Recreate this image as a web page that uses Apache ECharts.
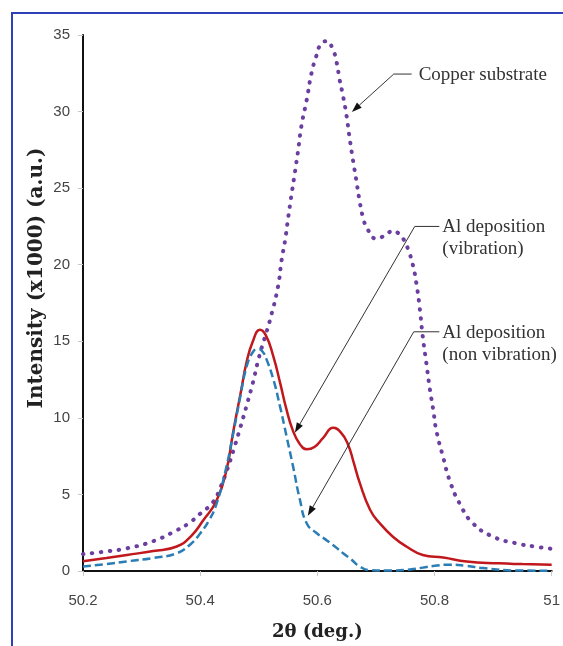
<!DOCTYPE html>
<html>
<head>
<meta charset="utf-8">
<script src="https://cdn.jsdelivr.net/npm/echarts@6/dist/echarts.min.js"></script>
<style>
html,body{margin:0;padding:0;background:#fff;overflow:hidden;}
#c{width:563px;height:646px;}
</style>
</head>
<body>
<div id="c"></div>
<script>
// ---- data (2θ in degrees, intensity x1000) ----
const xTicks = [50.2, 50.4, 50.6, 50.8, 51];
const xTickLabels = ['50.2', '50.4', '50.6', '50.8', '51'];
const yTicks = [0, 5, 10, 15, 20, 25, 30, 35];

const copperX = [50.2, 50.24, 50.275, 50.32, 50.36, 50.38, 50.4, 50.422, 50.435, 50.445, 50.457, 50.468, 50.48, 50.49, 50.5, 50.51, 50.52, 50.533, 50.539, 50.545, 50.55, 50.556, 50.562, 50.567, 50.573, 50.582, 50.59, 50.598, 50.606, 50.616, 50.627, 50.633, 50.638, 50.644, 50.65, 50.655, 50.661, 50.667, 50.672, 50.678, 50.686, 50.701, 50.715, 50.729, 50.74, 50.748, 50.755, 50.763, 50.769, 50.775, 50.78, 50.786, 50.792, 50.798, 50.803, 50.815, 50.826, 50.843, 50.866, 50.9, 50.94, 50.97, 51];
const copperY = [1.1, 1.28, 1.48, 1.95, 2.66, 3.1, 3.74, 4.5, 5.5, 6.5, 7.9, 9.3, 10.9, 12.3, 13.9, 15.2, 16.5, 18.6, 20.3, 21.6, 23.0, 24.6, 26.1, 27.4, 29.1, 30.8, 32.5, 33.6, 34.4, 34.6, 34.0, 33.2, 32.1, 31.0, 29.7, 28.3, 26.8, 25.4, 24.2, 23.1, 22.3, 21.7, 21.9, 22.2, 22.0, 21.6, 21.0, 20.0, 18.8, 17.1, 15.3, 13.6, 11.9, 10.5, 9.2, 7.4, 5.9, 4.4, 3.1, 2.24, 1.8, 1.6, 1.45];

const vibX = [50.2, 50.24, 50.275, 50.32, 50.36, 50.385, 50.405, 50.428, 50.445, 50.456, 50.47, 50.479, 50.49, 50.502, 50.512, 50.525, 50.537, 50.547, 50.558, 50.57, 50.582, 50.595, 50.61, 50.627, 50.64, 50.652, 50.662, 50.672, 50.69, 50.707, 50.729, 50.752, 50.78, 50.815, 50.855, 50.91, 50.95, 51];
const vibY = [0.63, 0.85, 1.05, 1.3, 1.6, 2.3, 3.3, 4.6, 6.6, 9.0, 11.8, 13.6, 15.0, 15.75, 15.4, 14.0, 12.2, 10.6, 9.2, 8.3, 7.95, 8.1, 8.7, 9.35, 9.05, 8.3, 7.1, 5.8, 4.0, 3.1, 2.24, 1.6, 1.05, 0.88, 0.62, 0.5, 0.45, 0.4];

const nonVibX = [50.2, 50.24, 50.275, 50.32, 50.36, 50.385, 50.4, 50.415, 50.428, 50.443, 50.456, 50.468, 50.479, 50.49, 50.499, 50.507, 50.513, 50.525, 50.536, 50.548, 50.559, 50.57, 50.582, 50.598, 50.616, 50.63, 50.644, 50.658, 50.672, 50.69, 50.72, 50.758, 50.78, 50.8, 50.826, 50.855, 50.883, 50.94, 51];
const nonVibY = [0.3, 0.45, 0.63, 0.85, 1.16, 1.8, 2.45, 3.3, 4.4, 6.5, 8.9, 11.3, 13.3, 14.3, 14.5, 14.3, 13.85, 12.5, 10.8, 8.7, 6.75, 4.7, 3.1, 2.5, 2.0, 1.6, 1.16, 0.75, 0.3, 0.05, 0.03, 0.1, 0.22, 0.34, 0.41, 0.33, 0.19, 0.03, 0.02];

// annotation anchors in data space: tip (arrow head), corner, end of horizontal leader
const copperNote = { text: ['Copper substrate'], tip: [50.659, 29.98], corner: [50.7305, 32.45], end: [50.761, 32.45], gap: 7 };
const vibNote = { text: ['Al deposition', '(vibration)'], tip: [50.5616, 9.03], corner: [50.7663, 22.5], end: [50.8083, 22.5], gap: 3 };
const nonVibNote = { text: ['Al deposition', '(non vibration)'], tip: [50.5838, 3.61], corner: [50.7646, 15.62], end: [50.8083, 15.62], gap: 3 };

const zip = (a, b) => a.map((v, i) => [v, b[i]]);

const chart = echarts.init(document.getElementById('c'), null, { renderer: 'canvas' });

const option = {
  backgroundColor: '#ffffff',
  animation: false,
  grid: { left: 83, right: 11, top: 35, bottom: 68, containLabel: false },
  xAxis: {
    type: 'value', min: 50.2, max: 51, interval: 0.2,
    name: '2θ (deg.)', nameLocation: 'middle', nameGap: 52,
    nameTextStyle: { fontFamily: 'DejaVu Serif', fontWeight: 'bold', fontSize: 18, color: '#222' },
    axisLine: { show: true, lineStyle: { color: '#111', width: 2 } },
    axisTick: { show: true, length: 5, lineStyle: { color: '#c8c8c8', width: 1 } },
    axisLabel: {
      margin: 22, fontFamily: 'Liberation Sans', fontSize: 15, color: '#444',
      formatter: v => { const i = xTicks.findIndex(t => Math.abs(t - v) < 1e-6); return i >= 0 ? xTickLabels[i] : ''; }
    },
    splitLine: { show: false }
  },
  yAxis: {
    type: 'value', min: yTicks[0], max: yTicks[yTicks.length - 1], interval: 5,
    axisLine: { show: true, lineStyle: { color: '#111', width: 2 } },
    axisTick: { show: true, length: 5, lineStyle: { color: '#c8c8c8', width: 1 } },
    axisLabel: { margin: 13, fontFamily: 'Liberation Sans', fontSize: 15, color: '#444' },
    splitLine: { show: false }
  },
  series: [
    {
      name: 'Copper substrate', type: 'line', data: zip(copperX, copperY),
      showSymbol: false, smooth: 0.5,
      lineStyle: { color: '#6b3fa0', width: 4, type: [0.5, 8.5], cap: 'round' }
    },
    {
      name: 'Al deposition (vibration)', type: 'line', data: zip(vibX, vibY),
      showSymbol: false, smooth: 0.5,
      lineStyle: { color: '#c0181c', width: 2.5 }
    },
    {
      name: 'Al deposition (non vibration)', type: 'line', data: zip(nonVibX, nonVibY),
      showSymbol: false, smooth: 0.5,
      lineStyle: { color: '#2a7db5', width: 2.5, type: [8, 4] }
    }
  ]
};
chart.setOption(option);

function noteGraphics(note) {
  const tip = chart.convertToPixel({ gridIndex: 0 }, note.tip);
  const cor = chart.convertToPixel({ gridIndex: 0 }, note.corner);
  const end = chart.convertToPixel({ gridIndex: 0 }, note.end);
  const dx = tip[0] - cor[0], dy = tip[1] - cor[1];
  const L = Math.hypot(dx, dy), ux = dx / L, uy = dy / L;
  const ah = 10, aw = 3.5;
  const bx = tip[0] - ux * ah, by = tip[1] - uy * ah;
  const els = [
    { type: 'polyline', shape: { points: [[bx, by], cor, end] }, style: { stroke: '#333', lineWidth: 1, fill: null }, z: 10 },
    { type: 'polygon', shape: { points: [tip, [bx - uy * aw, by + ux * aw], [bx + uy * aw, by - ux * aw]] }, style: { fill: '#111' }, z: 10 }
  ];
  note.text.forEach((t, i) => {
    els.push({ type: 'text', x: end[0] + note.gap, y: end[1] + 1 + i * 22, z: 10,
      style: { text: t, fontFamily: 'Liberation Serif', fontSize: 19, fill: '#333', verticalAlign: 'middle' } });
  });
  return els;
}

chart.setOption({
  graphic: [
    { type: 'rect', shape: { x: 12, y: 13, width: 700, height: 800 }, style: { fill: null, stroke: '#2f3fb8', lineWidth: 2 }, z: 20 },
    { type: 'text', x: 37, y: 278, rotation: Math.PI / 2, z: 10,
      style: { text: 'Intensity (x1000) (a.u.)', fontFamily: 'DejaVu Serif', fontWeight: 'bold', fontSize: 20, fill: '#222', align: 'center', verticalAlign: 'middle' } },
    ...noteGraphics(copperNote),
    ...noteGraphics(vibNote),
    ...noteGraphics(nonVibNote)
  ]
});
</script>
</body>
</html>
